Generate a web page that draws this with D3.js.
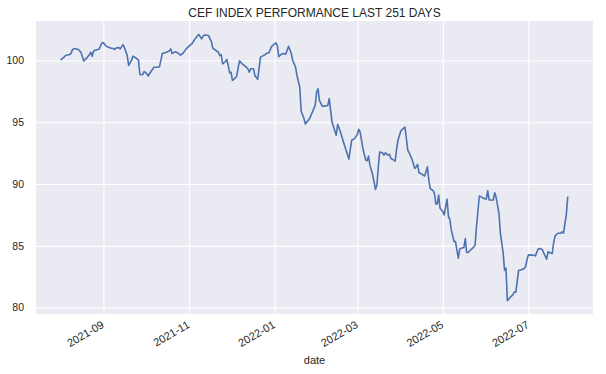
<!DOCTYPE html>
<html>
<head>
<meta charset="utf-8">
<script src="https://cdn.jsdelivr.net/npm/d3@7"></script>
<style>
  html, body { margin: 0; padding: 0; background: #ffffff; }
  svg { display: block; font-family: "Liberation Sans", Arial, sans-serif; }
</style>
</head>
<body>
<svg id="chart" width="606" height="374"></svg>
<script>
const titleText = "CEF INDEX PERFORMANCE LAST 251 DAYS";
const xLabelText = "date";

const dates = [
"2021-08-02","2021-08-03","2021-08-04","2021-08-05","2021-08-08","2021-08-09","2021-08-10","2021-08-12","2021-08-14","2021-08-16",
"2021-08-18","2021-08-20","2021-08-22","2021-08-23","2021-08-24","2021-08-25","2021-08-26","2021-08-28","2021-08-29","2021-08-31",
"2021-09-01","2021-09-03","2021-09-06","2021-09-08","2021-09-09","2021-09-10","2021-09-12","2021-09-13","2021-09-15","2021-09-16",
"2021-09-18","2021-09-19","2021-09-21","2021-09-22","2021-09-24","2021-09-26","2021-09-27","2021-09-29","2021-09-30","2021-10-02",
"2021-10-03","2021-10-04","2021-10-07","2021-10-09","2021-10-11","2021-10-13","2021-10-16","2021-10-18","2021-10-19","2021-10-20",
"2021-10-22","2021-10-24","2021-10-26","2021-10-28","2021-10-30","2021-11-02","2021-11-03","2021-11-05","2021-11-06","2021-11-08",
"2021-11-10","2021-11-11","2021-11-12","2021-11-14","2021-11-15","2021-11-17","2021-11-18","2021-11-20","2021-11-22","2021-11-23",
"2021-11-24","2021-11-25","2021-11-27","2021-11-28","2021-11-29","2021-11-30","2021-12-01","2021-12-02","2021-12-04","2021-12-05",
"2021-12-07","2021-12-09","2021-12-11","2021-12-13","2021-12-14","2021-12-15","2021-12-17","2021-12-18","2021-12-20","2021-12-22",
"2021-12-25","2021-12-26","2021-12-28","2021-12-30","2022-01-01","2022-01-02","2022-01-03","2022-01-04","2022-01-06","2022-01-07",
"2022-01-09","2022-01-10","2022-01-11","2022-01-13","2022-01-14","2022-01-16","2022-01-17","2022-01-19","2022-01-20","2022-01-22",
"2022-01-23","2022-01-25","2022-01-26","2022-01-28","2022-01-30","2022-01-31","2022-02-01","2022-02-02","2022-02-04","2022-02-06",
"2022-02-08","2022-02-09","2022-02-10","2022-02-11","2022-02-14","2022-02-15","2022-02-17","2022-02-19","2022-02-21","2022-02-23",
"2022-02-25","2022-02-27","2022-03-01","2022-03-02","2022-03-03","2022-03-04","2022-03-05","2022-03-07","2022-03-08","2022-03-09",
"2022-03-10","2022-03-12","2022-03-14","2022-03-15","2022-03-16","2022-03-17","2022-03-19","2022-03-20","2022-03-21","2022-03-23",
"2022-03-24","2022-03-25","2022-03-27","2022-03-28","2022-03-29","2022-03-30","2022-04-01","2022-04-02","2022-04-04","2022-04-06",
"2022-04-07","2022-04-09","2022-04-11","2022-04-12","2022-04-13","2022-04-14","2022-04-16","2022-04-18","2022-04-19","2022-04-20",
"2022-04-21","2022-04-22","2022-04-24","2022-04-25","2022-04-26","2022-04-27","2022-04-28","2022-04-29","2022-05-01","2022-05-02",
"2022-05-03","2022-05-04","2022-05-05","2022-05-06","2022-05-07","2022-05-09","2022-05-10","2022-05-11","2022-05-12","2022-05-13",
"2022-05-14","2022-05-16","2022-05-17","2022-05-18","2022-05-19","2022-05-21","2022-05-23","2022-05-24","2022-05-25","2022-05-27",
"2022-05-29","2022-05-30","2022-06-01","2022-06-02","2022-06-03","2022-06-05","2022-06-06","2022-06-07","2022-06-08","2022-06-10",
"2022-06-11","2022-06-13","2022-06-14","2022-06-15","2022-06-16","2022-06-18","2022-06-20","2022-06-21","2022-06-22","2022-06-23",
"2022-06-24","2022-06-26","2022-06-28","2022-06-29","2022-06-30","2022-07-01","2022-07-04","2022-07-06","2022-07-08","2022-07-09",
"2022-07-11","2022-07-12","2022-07-14","2022-07-15","2022-07-16","2022-07-18","2022-07-19","2022-07-20","2022-07-22","2022-07-24",
"2022-07-25","2022-07-26","2022-07-28","2022-07-29"
];

const values = [
100.08,100.2,100.27,100.4,100.48,100.6,100.9,100.97,100.9,100.67,
99.97,100.19,100.46,100.67,100.35,100.75,100.83,100.9,100.94,101.43,
101.43,101.15,101.02,100.97,100.9,101.0,101.05,100.94,101.29,101.05,
100.4,99.6,100.0,100.35,100.22,100.03,98.87,98.85,99.11,98.93,
98.74,98.95,99.46,99.46,99.5,100.56,100.67,100.78,100.94,100.56,
100.7,100.62,100.43,100.62,100.94,101.26,101.34,101.69,101.85,102.12,
101.75,101.96,102.07,102.04,102.0,101.53,101.0,100.83,100.67,100.4,
100.48,99.73,99.92,100.08,99.6,99.0,99.06,98.39,98.57,98.74,
99.97,99.73,99.54,99.33,99.06,99.33,99.33,98.79,98.47,100.27,
100.46,100.56,100.62,101.15,101.34,101.43,101.21,100.32,100.51,100.56,
100.51,100.83,101.15,100.54,100.0,99.46,98.79,97.85,95.89,95.3,
94.86,95.16,95.3,95.83,96.37,97.44,97.72,96.77,96.31,96.31,
96.37,96.91,95.97,95.02,93.95,94.84,94.22,93.47,92.74,92.02,
93.55,93.68,94.0,94.44,94.22,93.55,92.88,91.94,91.89,92.26,
91.53,90.73,89.57,89.92,91.4,92.6,92.53,92.34,92.53,92.34,
92.4,92.07,91.94,91.85,92.8,93.55,94.27,94.41,94.62,92.74,
92.53,92.0,91.26,91.4,91.59,90.91,90.81,90.65,90.99,91.4,
90.32,89.65,89.46,89.25,88.39,88.39,89.11,88.04,87.77,87.5,
88.17,88.77,87.37,87.15,86.29,85.35,85.35,84.68,84.0,84.73,
84.81,84.86,85.59,84.46,84.46,84.68,84.9,85.08,86.56,89.03,
88.92,88.84,88.79,89.46,88.71,88.71,88.71,89.3,88.92,87.63,
86.02,84.41,83.01,83.2,80.56,80.83,81.05,81.27,81.24,82.12,
83.01,83.06,83.17,83.33,83.87,84.27,84.25,84.19,84.76,84.78,
84.68,84.41,83.92,84.52,84.46,84.38,85.27,85.81,86.02,86.02,
86.13,86.02,87.5,88.92
];

const xTickDates = ["2021-09-01","2021-11-01","2022-01-01","2022-03-01","2022-05-01","2022-07-01"];
const xTickLabels = ["2021-09","2021-11","2022-01","2022-03","2022-05","2022-07"];
const yTicks = [80, 85, 90, 95, 100];

(function () {
const parse = d3.timeParse("%Y-%m-%d");
const data = dates.map((d, i) => ({ date: parse(d), value: values[i] }));

const svg = d3.select("#chart");
const pL = 36, pR = 593, pT = 21, pB = 314;
const W = pR - pL, H = pB - pT;

// matplotlib-style 5% margins
const xExt = d3.extent(data, d => d.date);
const xPad = (xExt[1] - xExt[0]) * 0.05;
const yExt = d3.extent(data, d => d.value);
const yPad = (yExt[1] - yExt[0]) * 0.05;

const x = d3.scaleTime()
  .domain([new Date(+xExt[0] - xPad), new Date(+xExt[1] + xPad)])
  .range([pL, pR]);
const y = d3.scaleLinear()
  .domain([yExt[0] - yPad, yExt[1] + yPad])
  .range([pB, pT]);

svg.append("rect")
  .attr("x", pL).attr("y", pT).attr("width", W).attr("height", H)
  .attr("fill", "#EAEAF2");

const textColor = "#262626";

// Y axis with gridlines
const yAxis = svg.append("g")
  .attr("transform", `translate(${pL},0)`)
  .call(d3.axisLeft(y).tickValues(yTicks).tickSize(-W).tickPadding(12).tickFormat(d3.format("d")));
yAxis.select(".domain").remove();
yAxis.selectAll("line").attr("stroke", "#ffffff").attr("stroke-width", 1.1);
yAxis.selectAll("text")
  .attr("fill", textColor)
  .style("font-size", "10.5px")
  .style("font-family", "'Liberation Sans', Arial, sans-serif");

// X axis with gridlines
const xTickVals = xTickDates.map(parse);
const xAxis = svg.append("g")
  .attr("transform", `translate(0,${pB})`)
  .call(d3.axisBottom(x).tickValues(xTickVals).tickSize(-H)
    .tickFormat((d, i) => xTickLabels[i]));
xAxis.select(".domain").remove();
xAxis.selectAll("line").attr("stroke", "#ffffff").attr("stroke-width", 1.1);
xAxis.selectAll("text")
  .attr("fill", textColor)
  .style("font-size", "11px")
  .style("font-family", "'Liberation Sans', Arial, sans-serif")
  .attr("text-anchor", "end")
  .attr("y", 0).attr("dy", null)
  .attr("transform", "translate(1,13) rotate(-30)");

// line
const line = d3.line().x(d => x(d.date)).y(d => y(d.value));
svg.append("path")
  .datum(data)
  .attr("d", line)
  .attr("fill", "none")
  .attr("stroke", "#4C72B0")
  .attr("stroke-width", 1.6)
  .attr("stroke-linejoin", "round")
  .attr("stroke-linecap", "square");

// title
svg.append("text")
  .attr("x", (pL + pR) / 2).attr("y", 17)
  .attr("text-anchor", "middle")
  .attr("fill", textColor)
  .style("font-size", "12px")
  .text(titleText);

// x label
svg.append("text")
  .attr("x", (pL + pR) / 2).attr("y", 364)
  .attr("text-anchor", "middle")
  .attr("fill", textColor)
  .style("font-size", "11px")
  .text(xLabelText);
})();
</script>
</body>
</html>
